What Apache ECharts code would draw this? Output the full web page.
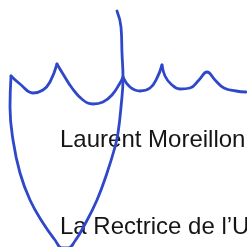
<!DOCTYPE html>
<html>
<head>
<meta charset="utf-8">
<script src="https://cdn.jsdelivr.net/npm/echarts@6/dist/echarts.min.js"></script>
<style>
  html, body { margin: 0; padding: 0; background: #fff; }
  #chart { width: 247px; height: 247px; }
</style>
</head>
<body>
<div id="chart"></div>
<script>
// signature strokes, [x, y] in picture units (y grows downwards)
const stemLoop = [
  [117, 11], [121, 27], [122, 53], [123, 78], [121, 107], [118, 133], [115, 147],
  [107, 173], [97, 200], [84, 226], [75, 241], [68, 248], [62, 248], [55, 240],
  [43, 223], [30, 200], [20, 173], [13, 140], [10, 107], [11, 76]
];
const hookToFirstPeak = [[11, 76], [20, 84], [33, 93], [43, 90], [50, 82], [57, 64]];
const firstPeakToStem = [
  [57, 64], [63, 74], [72, 88], [83, 100], [93, 104], [103, 102], [112, 95], [120, 83], [123, 77]
];
const stemToSecondPeak = [[123, 77], [130, 87], [140, 91], [150, 88], [157, 78], [162, 65]];
const tail = [
  [162, 65], [165, 76], [171, 84], [180, 89], [190, 88], [199, 80], [207, 72],
  [215, 80], [224, 88], [236, 91], [246, 92]
];
const strokes = [stemLoop, hookToFirstPeak, firstPeakToStem, stemToSecondPeak, tail];

const nameLine = 'Laurent Moreillon';
const titleLine = 'La Rectrice de l’U';

const chart = echarts.init(document.getElementById('chart'));
chart.setOption({
  animation: false,
  grid: { left: 0, right: 0, top: 0, bottom: 0 },
  xAxis: { type: 'value', min: 0, max: 247, show: false },
  yAxis: { type: 'value', min: 0, max: 247, inverse: true, show: false },
  graphic: [
    {
      type: 'text', z: 0, x: 60, y: 140,
      style: { text: nameLine, font: '24px "Liberation Sans", Arial, sans-serif', fill: '#151515', verticalAlign: 'middle' }
    },
    {
      type: 'text', z: 0, x: 60, y: 227,
      style: { text: titleLine, font: '24px "Liberation Sans", Arial, sans-serif', fill: '#151515', verticalAlign: 'middle' }
    }
  ],
  series: strokes.map(pts => ({
    type: 'line',
    z: 5,
    data: pts,
    smooth: 0.45,
    symbol: 'none',
    clip: false,
    lineStyle: { color: '#2f47c9', width: 2.8, cap: 'round' }
  }))
});
</script>
</body>
</html>
